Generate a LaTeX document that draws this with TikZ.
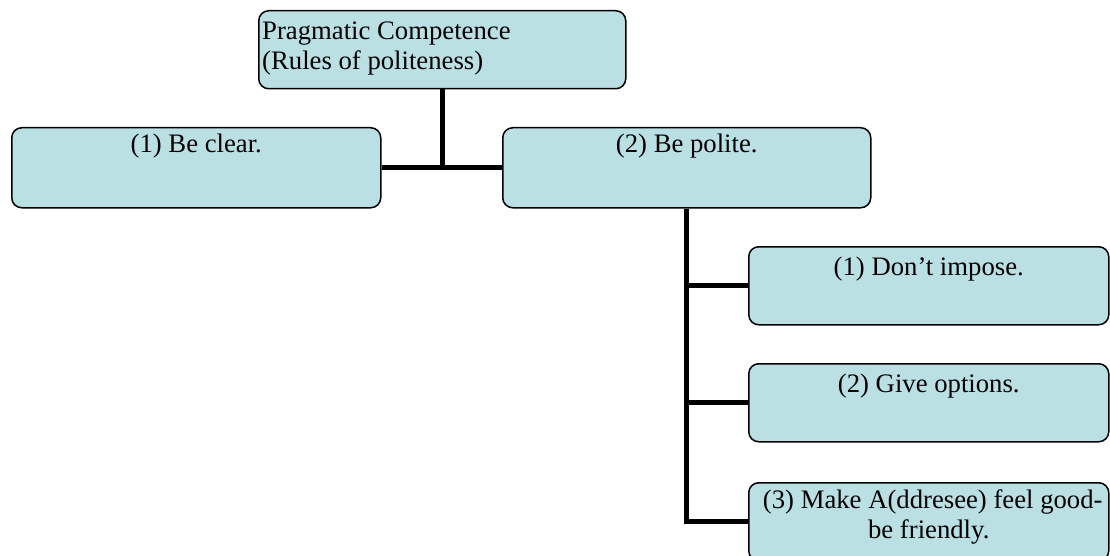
\documentclass[tikz,border=0pt]{standalone}
\usepackage{fontspec}
\setmainfont{Liberation Serif}
\usetikzlibrary{calc}
\definecolor{boxfill}{RGB}{186,224,228}
\tikzset{
  box/.style={draw=black, line width=1.5pt, fill=boxfill, rounded corners=10pt,
    anchor=north west, inner sep=0pt},
  txt/.style={inner sep=0pt, font=\fontsize{26.7}{32}\selectfont},
  link/.style={line width=5pt, black},
}
\begin{document}
\begin{tikzpicture}[x=1pt,y=-1pt]
\useasboundingbox (0,0) rectangle (1110,556);
% boxes
\node[box, minimum width=367pt, minimum height=78pt] (root) at (258,10) {};
\node[box, minimum width=369pt, minimum height=80pt] (clear) at (11,127) {};
\node[box, minimum width=368pt, minimum height=80pt] (polite) at (502,127) {};
\node[box, minimum width=360pt, minimum height=78pt] (b1) at (748,246) {};
\node[box, minimum width=360pt, minimum height=78pt] (b2) at (748,363) {};
\node[box, minimum width=360pt, minimum height=78pt] (b3) at (748,482) {};
% texts
\node[txt, anchor=base west] (rootT) at (262,40) {Pragmatic Competence};
\node[txt, anchor=base west] (rootT2) at (262,70) {(Rules of politeness)};
\node[txt, anchor=base] (clearT) at ($(clear.north)+(0,26)$) {(1) Be clear.};
\node[txt, anchor=base] (politeT) at ($(polite.north)+(0,26)$) {(2) Be polite.};
\node[txt, anchor=base] (b1T) at ($(b1.north)+(0,29)$) {(1) Don’t impose.};
\node[txt, anchor=base] (b2T) at ($(b2.north)+(0,29)$) {(2) Give options.};
\node[txt, anchor=base] (b3T) at ($(b3.north)+(4,26)$) {(3) Make A(ddresee) feel good-};
\node[txt, anchor=base] (b3T2) at ($(b3.north)+(0,56)$) {be friendly.};
% connectors
\draw[link] (root.south) -- (root.south |- clear.east);
\draw[link] (clear.east) -- (polite.west);
\draw[link] (polite.south) |- (b3.west);
\draw[link] (polite.south |- b1.west) -- (b1.west);
\draw[link] (polite.south |- b2.west) -- (b2.west);
\end{tikzpicture}
\end{document}
